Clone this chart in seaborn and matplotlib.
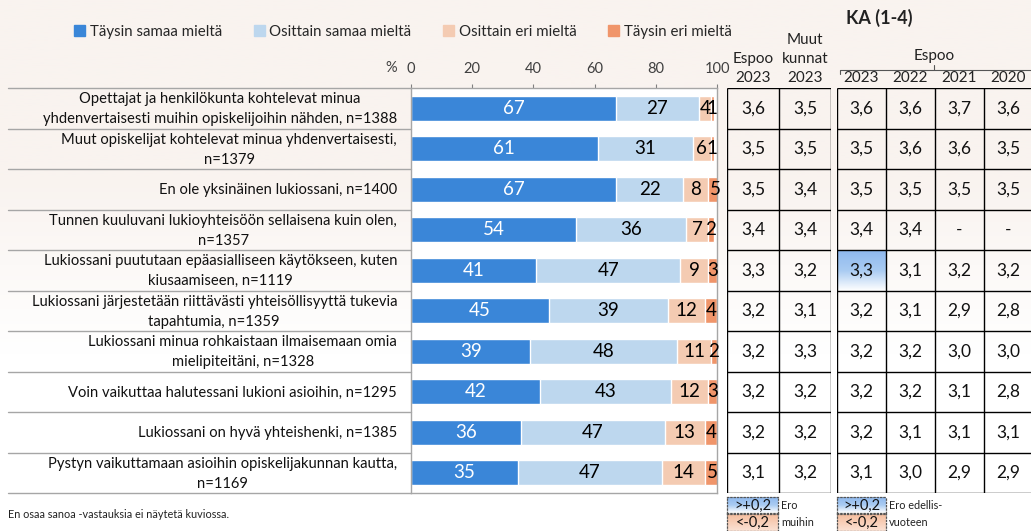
import matplotlib
matplotlib.use("Agg")
import matplotlib.pyplot as plt
import matplotlib.transforms as mtransforms
from matplotlib.colors import LinearSegmentedColormap
from matplotlib.patches import Patch
import numpy as np
import seaborn as sns

# --- data -------------------------------------------------------------
statements = [
    "Opettajat ja henkilökunta kohtelevat minua\nyhdenvertaisesti muihin opiskelijoihin nähden, n=1388",
    "Muut opiskelijat kohtelevat minua yhdenvertaisesti,\nn=1379",
    "En ole yksinäinen lukiossani, n=1400",
    "Tunnen kuuluvani lukioyhteisöön sellaisena kuin olen,\nn=1357",
    "Lukiossani puututaan epäasialliseen käytökseen, kuten\nkiusaamiseen, n=1119",
    "Lukiossani järjestetään riittävästi yhteisöllisyyttä tukevia\ntapahtumia, n=1359",
    "Lukiossani minua rohkaistaan ilmaisemaan omia\nmielipiteitäni, n=1328",
    "Voin vaikuttaa halutessani lukioni asioihin, n=1295",
    "Lukiossani on hyvä yhteishenki, n=1385",
    "Pystyn vaikuttamaan asioihin opiskelijakunnan kautta,\nn=1169",
]
full_agree = [67, 61, 67, 54, 41, 45, 39, 42, 36, 35]
part_agree = [27, 31, 22, 36, 47, 39, 48, 43, 47, 47]
part_disagree = [4, 6, 8, 7, 9, 12, 11, 12, 13, 14]
full_disagree = [1, 1, 5, 2, 3, 4, 2, 3, 4, 5]
series_names = ["Täysin samaa mieltä", "Osittain samaa mieltä",
                "Osittain eri mieltä", "Täysin eri mieltä"]
x_ticks = [0, 20, 40, 60, 80, 100]

# KA (1-4) table
espoo_2023 = [3.6, 3.5, 3.5, 3.4, 3.3, 3.2, 3.2, 3.2, 3.2, 3.1]
muut_2023 = [3.5, 3.5, 3.4, 3.4, 3.2, 3.1, 3.3, 3.2, 3.2, 3.2]
espoo_2022 = [3.6, 3.6, 3.5, 3.4, 3.1, 3.1, 3.2, 3.2, 3.1, 3.0]
espoo_2021 = [3.7, 3.6, 3.5, None, 3.2, 2.9, 3.0, 3.1, 3.1, 2.9]
espoo_2020 = [3.6, 3.5, 3.5, None, 3.2, 2.8, 3.0, 2.8, 3.1, 2.9]
group1_headers = ["Espoo\n2023", "Muut\nkunnat\n2023"]
group2_years = ["2023", "2022", "2021", "2020"]

# --- style ------------------------------------------------------------
sns.set_style("white")
plt.rcParams["font.family"] = ["Lato", "DejaVu Sans"]

colors = ["#3A86D8", "#BDD7EE", "#F4CBB2", "#F0956A"]
label_colors = ["white", "black", "black", "black"]
W, H = 1031, 531


def fx(x):
    return x / W


def fy(y):
    return 1 - y / H


fig = plt.figure(figsize=(W / 100, H / 100), dpi=100)

# faint tinted background fading to white
bg = fig.add_axes([0, 0, 1, 1], zorder=-10)
bg_cmap = LinearSegmentedColormap.from_list("bg", ["#F9F3EF", "#F9F3EF", "#FFFFFF", "#FFFFFF"])
bg.imshow(np.linspace(0, 1, 256).reshape(-1, 1), aspect="auto", cmap=bg_cmap,
          extent=[0, 1, 0, 1])
bg.axis("off")

# --- stacked bars -----------------------------------------------------
ax = fig.add_axes([fx(411), fy(493), fx(306), 405 / H])
values = np.array([full_agree, part_agree, part_disagree, full_disagree])
cum = np.cumsum(values, axis=0)
for k in reversed(range(4)):
    sns.barplot(x=cum[k], y=statements, orient="h", color=colors[k],
                saturation=1, width=0.62, ax=ax)
for k in range(4):
    for i in range(len(statements)):
        ax.text(cum[k][i] - values[k][i] / 2, i, str(values[k][i]),
                ha="center", va="center", fontsize=13.5, color=label_colors[k])

ax.set_xlim(0, 100)
ax.set_ylim(9.5, -0.5)
ax.set_xlabel("")
ax.set_ylabel("")
ax.set_facecolor("white")
ax.xaxis.tick_top()
ax.set_xticks(x_ticks)
ax.tick_params(axis="x", length=3, pad=6, labelsize=10.5, labelcolor="#404040",
               color="#808080")
ax.set_yticks([])
for s in ax.spines.values():
    s.set_color("#A6A6A6")
    s.set_linewidth(1)

# statement labels and row separators in the left margin
trans = mtransforms.blended_transform_factory(fig.transFigure, ax.transData)
for i, s in enumerate(statements):
    ax.text(fx(397), i + 0.02, s, transform=trans, ha="right", va="center",
            multialignment="center", linespacing=1.55, fontsize=10.6,
            color="#111111", clip_on=False)
for b in np.arange(-0.5, len(statements), 1):
    ax.plot([fx(8), fx(411)], [b, b], transform=trans, color="#A6A6A6",
            lw=1, clip_on=False)

fig.text(fx(391), fy(68), "%", ha="center", va="center", fontsize=10.5, color="#404040")

handles = [Patch(color=c) for c in colors]
fig.legend(handles, series_names, loc="center left",
           bbox_to_anchor=(fx(74), fy(32)), ncol=4, frameon=False, fontsize=10.8,
           handlelength=0.75, handleheight=0.75, handletextpad=0.3,
           columnspacing=2.1, borderpad=0, borderaxespad=0)

fig.text(fx(8), fy(514), "En osaa sanoa -vastauksia ei näytetä kuviossa.",
         fontsize=7.8, va="center", color="#222222")

# --- KA table ---------------------------------------------------------
blue_grad = LinearSegmentedColormap.from_list("bg2", ["#8FB9EE", "#A9CBF2", "#FFFFFF"])
peach_grad = LinearSegmentedColormap.from_list("pg", ["#F5BE9F", "#F8CFB8", "#FBE2D4"])


def fmt(v):
    return "-" if v is None else f"{v:.1f}".replace(".", ",")


def draw_table(tax, cols, highlight):
    n = len(cols[0])
    tax.axis("off")
    for (r, c) in highlight:
        tax.imshow(np.linspace(0, 1, 64).reshape(-1, 1), cmap=blue_grad,
                   aspect="auto", extent=[c, c + 1, r + 1, r], zorder=1)
    tax.set_xlim(0, len(cols))
    tax.set_ylim(n, 0)
    tax.vlines(range(len(cols) + 1), 0, n, color="black", lw=1, zorder=2)
    tax.hlines(range(n + 1), 0, len(cols), color="black", lw=1, zorder=2)
    for c, col in enumerate(cols):
        for r, v in enumerate(col):
            tax.text(c + 0.5, r + 0.5, fmt(v), ha="center", va="center",
                     fontsize=12.5, color="#111111", zorder=3)


def diff_cells(cols, ref_cols):
    cells = []
    for c, (a, b) in enumerate(zip(cols, ref_cols)):
        for r, (va, vb) in enumerate(zip(a, b)):
            if va is not None and vb is not None and va - vb >= 0.2 - 1e-9:
                cells.append((r, c))
    return cells


g1 = fig.add_axes([fx(727), fy(493), fx(104), 405 / H])
draw_table(g1, [espoo_2023, muut_2023], diff_cells([espoo_2023], [muut_2023]))
for c, h in enumerate(group1_headers):
    g1.text(c + 0.5, -0.07, h, ha="center", va="bottom", fontsize=11,
            linespacing=1.45, color="#222222", clip_on=False)

trend = [espoo_2023, espoo_2022, espoo_2021, espoo_2020]
g2 = fig.add_axes([fx(837), fy(493), fx(196), 405 / H])
draw_table(g2, trend, diff_cells(trend[:1], trend[1:2]))
for c, yr in enumerate(group2_years):
    g2.text(c + 0.5, -0.07, yr, ha="center", va="bottom", fontsize=11,
            color="#222222", clip_on=False)

fig.text(fx(934), fy(56), "Espoo", ha="center", va="center", fontsize=11, color="#222222")
fig.lines.append(plt.Line2D([fx(840), fx(1031)], [fy(70), fy(70)], color="#555555",
                            lw=0.8, transform=fig.transFigure))
fig.lines.append(plt.Line2D([fx(934), fx(934)], [fy(70), fy(65)], color="#555555",
                            lw=0.8, transform=fig.transFigure))
fig.lines.append(plt.Line2D([fx(840), fx(840)], [fy(70), fy(74)], color="#555555",
                            lw=0.8, transform=fig.transFigure))
fig.text(fx(879), fy(18), "KA (1-4)", ha="center", va="center", fontsize=13,
         fontweight="bold", color="#222222")

# --- colour key under the table ----------------------------------------
def key_box(x0, y0, w, h, cmap, text):
    kax = fig.add_axes([fx(x0), fy(y0 + h), fx(w), h / H])
    kax.imshow(np.linspace(0, 1, 32).reshape(-1, 1), cmap=cmap, aspect="auto",
               extent=[0, 1, 0, 1])
    kax.set_xticks([])
    kax.set_yticks([])
    for s in kax.spines.values():
        s.set_linestyle(":")
        s.set_color("#555555")
        s.set_linewidth(0.9)
    kax.text(0.5, 0.45, text, ha="center", va="center", fontsize=10.5,
             color="#111111", transform=kax.transAxes)


key_box(727, 497, 51, 16, blue_grad, ">+0,2")
key_box(727, 514, 51, 17, peach_grad, "<-0,2")
key_box(837, 497, 49, 16, blue_grad, ">+0,2")
key_box(837, 514, 49, 17, peach_grad, "<-0,2")
fig.text(fx(781), fy(514), "Ero\nmuihin", ha="left", va="center", fontsize=7.8,
         linespacing=1.6, color="#222222")
fig.text(fx(889), fy(514), "Ero edellis-\nvuoteen", ha="left", va="center",
         fontsize=7.8, linespacing=1.6, color="#222222")

fig.savefig("out.png", dpi=100, facecolor=fig.get_facecolor())
